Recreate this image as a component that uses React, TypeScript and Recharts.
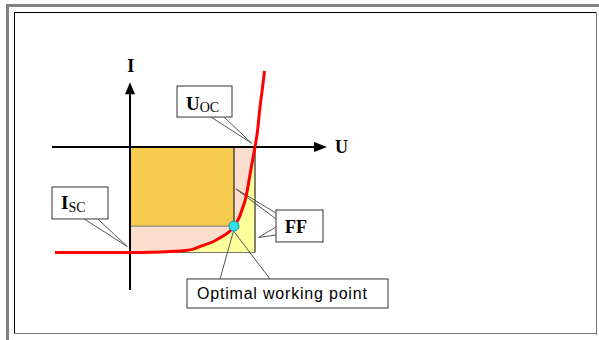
import React from "react";
import {
  ComposedChart,
  Area,
  Line,
  Scatter,
  XAxis,
  YAxis,
  ReferenceLine,
  ReferenceArea,
} from "recharts";

// ---- data (normalised units: U / Uoc, I / Isc, current of the cell drawn negative) ----
const voltage = [-0.6, 0, 0.16, 0.3, 0.4, 0.5, 0.58, 0.664, 0.744, 0.8, 0.832, 0.86, 0.88, 0.9, 0.92, 0.94, 0.96, 0.98, 1.0, 1.02, 1.04, 1.06, 1.076];
const current = [-1.0, -1.0, -0.997, -0.992, -0.985, -0.97, -0.935, -0.898, -0.844, -0.796, -0.75, -0.7, -0.65, -0.58, -0.51, -0.4, -0.26, -0.13, 0, 0.15, 0.38, 0.56, 0.72];
const Uoc = 1.0;
const Isc = -1.0;
const Ump = 0.832;
const Imp = -0.75;
const optimalPoint = [{ u: Ump, i: Imp }];

// axis extents
const uAxisRange = [-0.624, 1.576];
const iAxisRange = [-1.355, 0.613];

// callout boxes [u1, u2, i1, i2]
const uocBox = [0.376, 0.816, 0.578, 0.284];
const iscBox = [-0.624, -0.176, -0.379, -0.682];
const ffBox = [1.168, 1.544, -0.597, -0.9];
const optBox = [0.456, 2.064, -1.251, -1.526];

// callout pointers: [from, to]
type P = { x: number; y: number };
const pointers: [P, P][] = [
  [{ x: 0.648, y: 0.284 }, { x: 0.974, y: 0.035 }],
  [{ x: 0.752, y: 0.284 }, { x: 0.974, y: 0.035 }],
  [{ x: -0.366, y: -0.682 }, { x: -0.022, y: -0.943 }],
  [{ x: -0.258, y: -0.682 }, { x: -0.022, y: -0.943 }],
  [{ x: 1.168, y: -0.626 }, { x: 0.848, y: -0.398 }],
  [{ x: 1.168, y: -0.682 }, { x: 0.848, y: -0.398 }],
  [{ x: 1.168, y: -0.758 }, { x: 1.028, y: -0.858 }],
  [{ x: 1.168, y: -0.834 }, { x: 1.028, y: -0.858 }],
  [{ x: 0.72, y: -1.251 }, { x: 0.828, y: -0.796 }],
  [{ x: 1.12, y: -1.251 }, { x: 0.828, y: -0.796 }],
];

const rows = voltage.map((u, k) => ({
  u,
  i: current[k],
  box: u >= 0 && u <= Uoc ? current[k] : null,
  rect: u >= 0 && u <= Ump ? Imp : null,
}));

const SERIF = "'Liberation Serif', 'DejaVu Serif', serif";
const SANS = "'Liberation Sans', Arial, sans-serif";

const VAxisShape = (p: any) => {
  const x = p.x1;
  const top = Math.min(p.y1, p.y2);
  const bottom = Math.max(p.y1, p.y2);
  return (
    <g>
      <line x1={x} y1={bottom} x2={x} y2={top + 11} stroke="#000" strokeWidth={2} />
      <polygon points={`${x},${top} ${x - 5},${top + 12} ${x + 5},${top + 12}`} fill="#000" />
      <text x={x + 0.7} y={top - 10.5} textAnchor="middle" fontFamily={SERIF} fontWeight="bold" fontSize={18} fill="#000">
        I
      </text>
    </g>
  );
};

const HAxisShape = (p: any) => {
  const y = p.y1;
  const left = Math.min(p.x1, p.x2);
  const right = Math.max(p.x1, p.x2);
  return (
    <g>
      <line x1={left} y1={y} x2={right - 12} y2={y} stroke="#000" strokeWidth={2} />
      <polygon points={`${right},${y} ${right - 13},${y - 5} ${right - 13},${y + 5}`} fill="#000" />
      <text x={right + 8} y={y + 5.5} fontFamily={SERIF} fontWeight="bold" fontSize={18} fill="#000">
        U
      </text>
    </g>
  );
};

const boxShape = (draw: (x: number, y: number) => React.ReactNode) => (p: any) => (
  <g>
    <rect x={p.x} y={p.y} width={p.width} height={p.height} fill="#fff" stroke="#333" strokeWidth={1} />
    {draw(p.x, p.y)}
  </g>
);

const uocShape = boxShape((x, y) => (
  <text x={x + 9} y={y + 23.5} fontFamily={SERIF} fill="#000">
    <tspan fontWeight="bold" fontSize={19}>U</tspan>
    <tspan fontSize={14} dy={2}>OC</tspan>
  </text>
));
const iscShape = boxShape((x, y) => (
  <text x={x + 9} y={y + 22.5} fontFamily={SERIF} fill="#000">
    <tspan fontWeight="bold" fontSize={19}>I</tspan>
    <tspan fontSize={14} dy={3}>SC</tspan>
  </text>
));
const ffShape = boxShape((x, y) => (
  <text x={x + 9} y={y + 22.7} fontFamily={SERIF} fontWeight="bold" fontSize={18} fill="#000">
    FF
  </text>
));
const optShape = boxShape((x, y) => (
  <text x={x + 10} y={y + 20.5} fontFamily={SANS} fontSize={16} letterSpacing={0.8} fill="#000">
    Optimal working point
  </text>
));

const DotShape = (p: any) => (
  <circle cx={p.cx} cy={p.cy} r={5} fill="#33E0E8" stroke="#1898A8" strokeWidth={1} />
);

export default function App() {
  return (
    <div style={{ position: "absolute", left: 0, top: 0, width: 599, height: 340, background: "#fff", overflow: "hidden" }}>
      {/* frame */}
      <div style={{ position: "absolute", left: 6, top: 4, width: 593, height: 3, background: "#808080" }} />
      <div style={{ position: "absolute", left: 6, top: 4, width: 3, height: 336, background: "#808080" }} />
      <div style={{ position: "absolute", left: 14, top: 12, width: 583, height: 1, background: "#000" }} />
      <div style={{ position: "absolute", left: 14, top: 12, width: 1, height: 322, background: "#000" }} />
      <div style={{ position: "absolute", left: 596, top: 12, width: 1, height: 323, background: "#777" }} />
      <div style={{ position: "absolute", left: 14, top: 333, width: 583, height: 1, background: "#777" }} />
      <div style={{ position: "absolute", left: 0, top: 0 }}>
        <ComposedChart width={599} height={340} data={rows} margin={{ top: 0, right: 0, bottom: 0, left: 0 }}>
          <XAxis type="number" dataKey="u" domain={[-1.04, 3.752]} allowDataOverflow hide />
          <YAxis type="number" domain={[-1.8294, 1.3934]} allowDataOverflow hide />
          <Area dataKey="box" type="monotone" baseValue={Isc} fill="#FFFF9C" fillOpacity={1} stroke="none" isAnimationActive={false} dot={false} activeDot={false} />
          <Area dataKey="box" type="monotone" baseValue={0} fill="#FBDECD" fillOpacity={1} stroke="none" isAnimationActive={false} dot={false} activeDot={false} />
          <Area dataKey="rect" type="linear" baseValue={0} fill="#F7CB50" fillOpacity={1} stroke="none" isAnimationActive={false} dot={false} activeDot={false} />
          <ReferenceLine segment={[{ x: Ump, y: 0 }, { x: Ump, y: Imp }]} stroke="#000" strokeWidth={1} ifOverflow="visible" />
          <ReferenceLine segment={[{ x: 0, y: Imp }, { x: Ump, y: Imp }]} stroke="#777" strokeWidth={1} ifOverflow="visible" />
          <ReferenceLine segment={[{ x: Uoc, y: 0 }, { x: Uoc, y: Isc }]} stroke="#000" strokeWidth={1} ifOverflow="visible" />
          <ReferenceLine segment={[{ x: 0, y: Isc }, { x: Uoc, y: Isc }]} stroke="#777" strokeWidth={1} ifOverflow="visible" />
          <ReferenceLine segment={[{ x: 0, y: iAxisRange[0] }, { x: 0, y: iAxisRange[1] }]} shape={VAxisShape} ifOverflow="visible" />
          <ReferenceLine segment={[{ x: uAxisRange[0], y: 0 }, { x: uAxisRange[1], y: 0 }]} shape={HAxisShape} ifOverflow="visible" />
          {pointers.map((seg, k) => (
            <ReferenceLine key={k} segment={seg} stroke="#555" strokeWidth={1} ifOverflow="visible" />
          ))}
          <Line dataKey="i" type="monotone" stroke="#FF0000" strokeWidth={3} dot={false} activeDot={false} isAnimationActive={false} />
          <Scatter data={optimalPoint} dataKey="i" shape={DotShape} isAnimationActive={false} />
          <ReferenceArea x1={uocBox[0]} x2={uocBox[1]} y1={uocBox[2]} y2={uocBox[3]} shape={uocShape} ifOverflow="visible" />
          <ReferenceArea x1={iscBox[0]} x2={iscBox[1]} y1={iscBox[2]} y2={iscBox[3]} shape={iscShape} ifOverflow="visible" />
          <ReferenceArea x1={ffBox[0]} x2={ffBox[1]} y1={ffBox[2]} y2={ffBox[3]} shape={ffShape} ifOverflow="visible" />
          <ReferenceArea x1={optBox[0]} x2={optBox[1]} y1={optBox[2]} y2={optBox[3]} shape={optShape} ifOverflow="visible" />
        </ComposedChart>
      </div>
    </div>
  );
}
